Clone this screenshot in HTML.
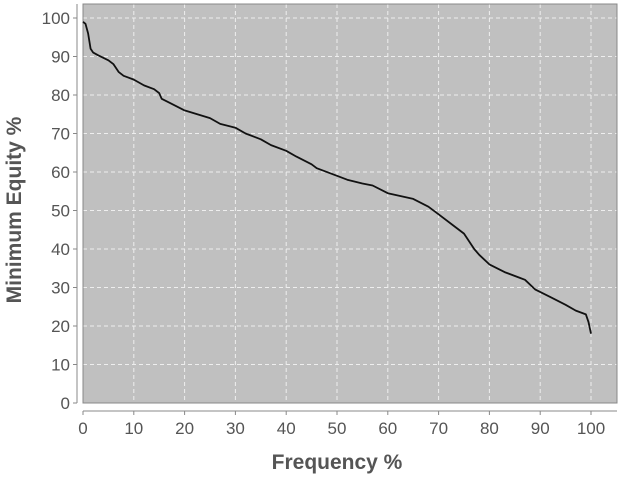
<!DOCTYPE html>
<html><head><meta charset="utf-8"><style>
body{margin:0;background:#fff;width:620px;height:475px;overflow:hidden}
svg text{font-family:"Liberation Sans","DejaVu Sans",sans-serif;fill:#555}
</style></head><body>
<svg id="chart" width="620" height="475"></svg>
<script>
const freqValues=[0,0.5,1,1.5,2,3,5,6,7,8,10,12,14,15,15.5,17,20,25,27,30,32,35,37,40,42,45,46,50,52,55,57,60,65,68,70,73,75,77,78,80,83,86,87,89,92,95,97,99,99.5,100];
const equityValues=[99,98.5,96,92,91,90.3,89,88,86,85,84,82.5,81.5,80.5,79,78,76,74,72.5,71.5,70,68.5,67,65.5,64,62,61,59,58,57,56.5,54.5,53,51,49,46,44,40,38.5,36,34,32.5,32,29.5,27.5,25.5,24,23,21,18];
const xTicks=[0,10,20,30,40,50,60,70,80,90,100];
const yTicks=[0,10,20,30,40,50,60,70,80,90,100];
const NS="http://www.w3.org/2000/svg";
const svg=document.getElementById('chart');
const L=83,R=617,T=4,B=403;
const xs=v=>83+v*5.08;
const ys=v=>403-v*3.85;
function mk(tag,at){const e=document.createElementNS(NS,tag);for(const k in at)e.setAttribute(k,at[k]);svg.appendChild(e);return e;}
const bg=mk('rect',{x:L,y:T,width:R-L,height:B-T,fill:'#c0c0c0'});


xTicks.forEach(t=>{
 const g=mk('line',{x1:xs(t),x2:xs(t),y1:T,y2:B,stroke:'#eee','stroke-dasharray':'4,3','stroke-width':1});
 
 
 const tk=mk('line',{x1:xs(t),x2:xs(t),y1:411,y2:415,stroke:'#888'});
 
 
 const tx=mk('text',{x:xs(t),y:434,'text-anchor':'middle','font-size':17});
 tx.textContent=t;
 
 
});
yTicks.forEach(t=>{
 const g=mk('line',{x1:L,x2:R,y1:ys(t),y2:ys(t),stroke:'#eee','stroke-dasharray':'4,3','stroke-width':1});
 
 
 const tk=mk('line',{x1:73,x2:77,y1:ys(t),y2:ys(t),stroke:'#888'});
 
 
 const tx=mk('text',{x:70,y:ys(t)+6,'text-anchor':'end','font-size':17});
 tx.textContent=t;
 
 
});
const fr=mk('rect',{x:L,y:T,width:R-L,height:B-T,fill:'none',stroke:'#888','stroke-width':1});


const xa=mk('line',{x1:L,x2:R,y1:411,y2:411,stroke:'#888'});


const ya=mk('line',{x1:77,x2:77,y1:T,y2:B,stroke:'#888'});


const pts=freqValues.map((f,i)=>xs(f).toFixed(1)+','+ys(equityValues[i]).toFixed(1)).join(' ');
const line=mk('polyline',{points:pts,fill:'none',stroke:'#111','stroke-width':1.8,'stroke-linejoin':'round'});


const xt=mk('text',{x:337,y:469,'text-anchor':'middle','font-size':21,'font-weight':'bold'});
xt.textContent='Frequency %';


const yt=mk('text',{x:0,y:0,'text-anchor':'middle','font-size':21,'font-weight':'bold',transform:'translate(21,210) rotate(-90)'});
yt.textContent='Minimum Equity %';


</script>
</body></html>
